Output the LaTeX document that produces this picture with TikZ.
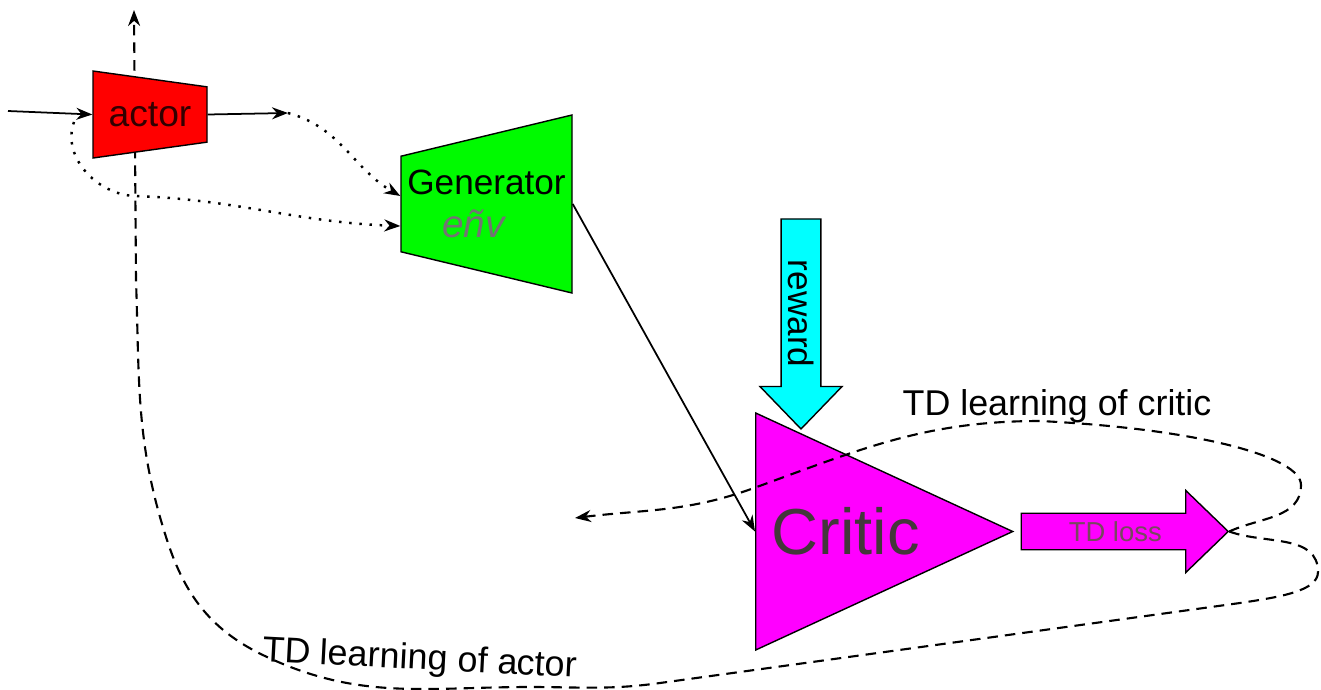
\documentclass[tikz,border=0pt]{standalone}
\usepackage{fontspec}
\setmainfont{Liberation Sans}
\usetikzlibrary{arrows.meta,shapes.geometric,shapes.arrows,positioning,calc,backgrounds}

\definecolor{actorred}{RGB}{255,0,0}
\definecolor{gengreen}{RGB}{0,250,0}
\definecolor{rewcyan}{RGB}{0,255,255}
\definecolor{critmag}{RGB}{255,0,255}

\begin{document}
\begin{tikzpicture}[
  font=\fontsize{10}{12}\selectfont,
  % Node Styles
  trap/.style={draw, trapezium, trapezium stretches body, align=center, inner sep=1pt},
  fatarrow/.style={draw, single arrow, single arrow head extend=0.2cm, single arrow tip angle=88, minimum width=0.82cm, inner sep=1.5pt},
  tri/.style={draw, isosceles triangle, isosceles triangle stretches, inner sep=1pt},
  % Line Styles
  sig_line/.style={-{Stealth[length=1.6mm,width=1.2mm]}, line width=0.5pt},
  dot_line/.style={-{Stealth[length=1.6mm,width=1.2mm]}, line width=0.7pt, dash pattern=on 0.7pt off 2.2pt},
  td_line/.style={-{Stealth[length=1.6mm,width=1.2mm]}, line width=0.6pt, dash pattern=on 3pt off 2pt},
  % Label Styles
  lbl/.style={font=\fontsize{10.2}{12}\selectfont}
]
\useasboundingbox (0,0) rectangle (13.21,6.89);

% ================= NODES =================

% --- Actor and Generator ---
\node[trap, shape border rotate=270, trapezium angle=80, minimum width=0.87cm, minimum height=1.14cm,
      fill=actorred, text=black!80!red, font=\fontsize{10.6}{12}\selectfont] (actor) at (1.50,5.745) {actor};
\node[trap, shape border rotate=90, trapezium angle=76, minimum width=1.78cm, minimum height=1.71cm,
      fill=gengreen] (gen) at (4.865,4.85) {Generator\\{\fontsize{11}{12}\selectfont\itshape\color{black!55} e\~{n}v\hspace*{0.26cm}}};

% --- Critic and its arrows ---
\node[tri, fill=critmag, minimum width=2.37cm, minimum height=2.57cm, anchor=lower side,
      text=black!85!magenta, font=\fontsize{18.5}{22}\selectfont] (critic) at (7.55,1.575) {Critic};
\node[fatarrow, fill=rewcyan, rotate=-90, minimum height=2.10cm, anchor=tip] (reward) at (8.01,2.59) {reward};
\node[fatarrow, fill=critmag, minimum height=2.07cm, anchor=tail, text=black!60!magenta,
      font=\fontsize{7.8}{9}\selectfont] (tdloss) at ($(critic.apex)+(0.06,0)$) {TD loss};

% --- Free ends ---
\coordinate (inp)   at (0.08,5.78);
\coordinate (aout)  at (2.88,5.76);
\coordinate (fork)  at (0.74,5.67);
\coordinate (top)   at (1.34,6.79);
\coordinate (back)  at (5.75,1.71);

% ================= CONNECTIONS =================

% Actor input and output
\draw[sig_line] (inp) -- (actor.west);
\draw[sig_line] (actor.east) -- (aout);

% Into the generator
\draw[dot_line] (aout) to[out=-15,in=150] ($(gen.west)+(0,0.08)$);
\draw[dot_line] (fork) to[out=-110,in=178] (1.35,4.93) to[out=-2,in=178] ($(gen.west)+(0,-0.22)$);

% Generator to critic
\draw[sig_line] (gen.east) -- (critic.lower side);

% TD learning of critic
\draw[td_line] (tdloss.tip) to[out=25,in=-90] (13.01,2.04) .. controls (13.01,2.32) and (12.0,2.6) .. (10.4,2.68)
  to[out=180,in=20] (7.54,2.01) to[out=200,in=7] (back);
\node[lbl] (tdcrit) at (10.57,2.83) {TD learning of critic};

% TD learning of actor
\begin{scope}[on background layer]
\draw[td_line] (tdloss.tip) to[out=-20,in=90] (13.18,1.17) .. controls (13.18,0.98) and (12.8,0.92) .. (12.4,0.86)
  -- (6.6,0.06) to[out=188,in=0] (5.3,0.02) to[out=180,in=-25] (2.67,0.32) to[out=155,in=-72] (1.67,1.49)
  to[out=108,in=-88] (1.36,4.09) -- (top);
\end{scope}
\node[lbl, rotate=-3] (tdact) at (4.2,0.29) {TD learning of actor};

\end{tikzpicture}
\end{document}
